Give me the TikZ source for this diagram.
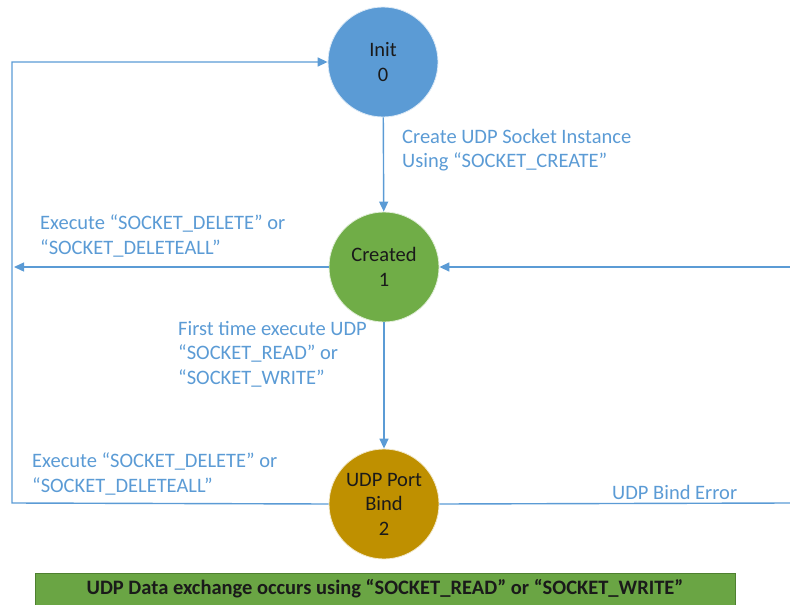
\documentclass[tikz,border=0pt]{standalone}
\usepackage{fontspec}
\setmainfont{Carlito}
\usetikzlibrary{arrows.meta}
\definecolor{lineblue}{HTML}{5B9BD5}
\definecolor{initblue}{HTML}{5B9BD5}
\definecolor{cgreen}{HTML}{70AD47}
\definecolor{bgold}{HTML}{BF9000}
\definecolor{bargreen}{HTML}{6AA544}
\definecolor{barborder}{HTML}{4E8030}
\definecolor{txtdark}{HTML}{1A1A1A}
\tikzset{
  state/.style={circle, minimum size=110pt, inner sep=0pt, draw=white!80!#1, line width=0.8pt, fill=#1, text=txtdark, align=center, font=\fontsize{20.5}{24.5}\selectfont},
  conn/.style={draw=lineblue, line width=1.4pt},
  arr/.style={conn, -{Triangle[length=10pt,width=9pt]}},
  lbl/.style={text=lineblue, align=left, inner sep=0pt, anchor=west, font=\fontsize{20.5}{24.5}\selectfont},
  bar/.style={fill=bargreen, draw=barborder, line width=1pt}
}
\begin{document}
\begin{tikzpicture}[x=1pt,y=-1pt]
\useasboundingbox (0,0) rectangle (790,605);
\node[state=initblue] (init) at (383,62) {Init\\0};
\node[state=cgreen] (created) at (384,267) {Created\\1};
\node[state=bgold] (bind) at (384,504) {UDP Port\\Bind\\2};
\coordinate (tl) at (12,62);
\coordinate (bl) at (12,503);
\coordinate (le) at (14,267);
\coordinate (re) at (790,267);
\coordinate (br) at (790,503);
\draw[arr] (init) -- (created);
\draw[arr] (created) -- (bind);
\draw[arr] (bind.west) -- (bl) -- (tl) -- (init.west);
\draw[arr] (created.west) -- (le);
\draw[arr] (re) -- (created.east);
\draw[conn] (bind.east) -- (br);
\node[lbl] (l1) at (402,150) {Create UDP Socket Instance\\Using “SOCKET\_CREATE”};
\node[lbl] (l2) at (40,236) {Execute “SOCKET\_DELETE” or\\“SOCKET\_DELETEALL”};
\node[lbl] (l3) at (178,354) {First time execute UDP\\“SOCKET\_READ” or\\“SOCKET\_WRITE”};
\node[lbl] (l4) at (32,474) {Execute “SOCKET\_DELETE” or\\“SOCKET\_DELETEALL”};
\node[lbl] (l5) at (612,492) {UDP Bind Error};
\path[bar] (35,573) rectangle (735,606);
\node[text=txtdark, font=\fontsize{20.5}{24}\selectfont\bfseries] (bartext) at (385,589) {UDP Data exchange occurs using “SOCKET\_READ” or “SOCKET\_WRITE”};
\end{tikzpicture}
\end{document}
